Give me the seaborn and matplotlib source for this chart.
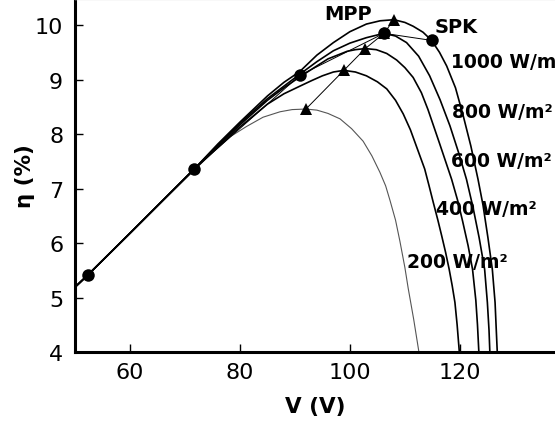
import matplotlib
matplotlib.use("Agg")
import matplotlib.pyplot as plt
import seaborn as sns
import pandas as pd

sns.set_style("ticks")
plt.rcParams["font.family"] = ["DejaVu Sans"]
plt.rcParams.update({
    "text.color": "black",
    "axes.labelcolor": "black",
    "axes.edgecolor": "black",
    "xtick.color": "black",
    "ytick.color": "black",
})

# Efficiency curves eta(V) for each irradiance level
v_200 = [50, 52.3, 60, 66, 71.7, 75, 78.2, 81.2, 84.2, 87.3, 89.5, 92.0, 94, 96, 98.2,
         100.3, 102.4, 104, 105.45, 106.5, 107.3, 108.3, 109.1, 110, 110.6, 111.6, 112.55]
eta_200 = [5.19, 5.41, 6.18, 6.78, 7.34, 7.66, 7.95, 8.14, 8.31, 8.41, 8.45, 8.46, 8.44, 8.38, 8.28,
           8.10, 7.87, 7.60, 7.30, 7.05, 6.78, 6.42, 6.03, 5.55, 5.17, 4.6, 4.0]

v_400 = [50, 52.3, 60, 71.7, 76, 80, 85, 88, 90.9, 93, 95, 97, 98.9, 101, 103, 105, 106.7,
         108.3, 109.7, 111, 112.3, 113.6, 114.4, 115.15, 116.0, 116.7, 117.4, 118.05, 118.6,
         119.1, 119.5, 119.9]
eta_400 = [5.19, 5.41, 6.18, 7.36, 7.76, 8.13, 8.55, 8.74, 8.88, 8.98, 9.07, 9.14, 9.17, 9.14,
           9.07, 8.96, 8.83, 8.62, 8.37, 8.08, 7.72, 7.36, 7.05, 6.75, 6.42, 6.13, 5.83, 5.52,
           5.22, 4.91, 4.5, 4.0]

v_600 = [50, 52.3, 60, 71.7, 76, 80, 85, 88, 90.9, 93.5, 96, 99.5, 101, 102.8, 104.8, 106.7,
         108.5, 110, 111.5, 113, 114.2, 115.15, 116.3, 117.4, 118.5, 119.6, 120.5, 121.5,
         122.3, 122.9, 123.2, 123.45]
eta_600 = [5.19, 5.41, 6.18, 7.36, 7.78, 8.17, 8.62, 8.85, 9.05, 9.22, 9.38, 9.52, 9.55, 9.57,
           9.55, 9.48, 9.36, 9.22, 9.04, 8.76, 8.45, 8.17, 7.83, 7.50, 7.17, 6.78, 6.40, 5.95,
           5.52, 4.95, 4.5, 4.0]

v_800 = [50, 52.3, 60, 71.7, 76, 80, 85, 88, 90.9, 94, 97, 100, 103, 106.2, 108.3, 110.3,
         112.5, 114.5, 116.4, 118.2, 119.8, 121.2, 122.4, 123.5, 124.5, 125.0, 125.3, 125.45]
eta_800 = [5.19, 5.41, 6.18, 7.36, 7.80, 8.20, 8.65, 8.88, 9.10, 9.33, 9.53, 9.67, 9.77, 9.85,
           9.80, 9.68, 9.43, 9.07, 8.63, 8.15, 7.65, 7.17, 6.65, 6.10, 5.52, 4.91, 4.4, 4.0]

v_1000 = [50, 52.3, 60, 71.7, 76, 80, 85, 88, 90.9, 94, 97, 100, 103, 105.5, 108.0, 110,
          111.5, 113.3, 114.85, 116.3, 117.6, 119.2, 120.6, 122, 123.3, 124.2, 125.1, 125.9,
          126.4, 126.6, 126.8]
eta_1000 = [5.19, 5.41, 6.18, 7.36, 7.82, 8.22, 8.70, 8.95, 9.15, 9.45, 9.68, 9.88, 10.02,
            10.08, 10.10, 10.05, 9.98, 9.87, 9.72, 9.50, 9.25, 8.85, 8.34, 7.78, 7.17, 6.70,
            6.10, 5.52, 4.91, 4.45, 4.0]

irradiance_labels = ["200 W/m²", "400 W/m²", "600 W/m²", "800 W/m²", "1000 W/m²"]

# Maximum power points (MPP) and SPK operating points
mpp_v = [92.0, 98.9, 102.8, 106.2, 108.0]
mpp_eta = [8.46, 9.17, 9.57, 9.85, 10.10]
spk_v = [52.3, 71.7, 90.9, 106.2, 114.85]
spk_eta = [5.41, 7.36, 9.08, 9.85, 9.72]

curves = pd.concat([
    pd.DataFrame({"V": v, "eta": e, "G": g})
    for v, e, g in zip([v_200, v_400, v_600, v_800, v_1000],
                       [eta_200, eta_400, eta_600, eta_800, eta_1000],
                       irradiance_labels)
], ignore_index=True)

fig = plt.figure(figsize=(5.55, 4.27), dpi=100)
ax = fig.add_axes([0.1351, 0.1733, 0.8649, 0.8267])

palette = {"200 W/m²": "#555555", "400 W/m²": "black", "600 W/m²": "black",
           "800 W/m²": "black", "1000 W/m²": "black"}
sizes = {"200 W/m²": 0.8, "400 W/m²": 1.2, "600 W/m²": 1.2,
         "800 W/m²": 1.2, "1000 W/m²": 1.2}
sns.lineplot(data=curves, x="V", y="eta", hue="G", size="G", palette=palette,
             sizes=sizes, sort=False, estimator=None, legend=False, ax=ax)

sns.lineplot(x=mpp_v, y=mpp_eta, sort=False, estimator=None, color="black",
             lw=0.7, marker="^", markersize=8, markeredgewidth=0, ax=ax)
sns.lineplot(x=spk_v, y=spk_eta, sort=False, estimator=None, color="black",
             lw=0.7, marker="o", markersize=9, markeredgewidth=0, ax=ax)

ax.set_xlim(50, 137.3)
ax.set_ylim(4, 10.48)
ax.set_xticks([60, 80, 100, 120])
ax.set_yticks([4, 5, 6, 7, 8, 9, 10])
ax.tick_params(direction="in", length=6, width=1, labelsize=16, colors="black")
ax.tick_params(axis="x", pad=7)
ax.tick_params(axis="y", pad=8.5)

for side in ["left", "bottom"]:
    ax.spines[side].set_linewidth(2.2)
    ax.spines[side].set_color("black")
ax.spines["right"].set_visible(False)
ax.spines["top"].set_color("#dddddd")
ax.spines["top"].set_linewidth(1)

ax.set_xlabel("V (V)", fontsize=15.5, fontweight="bold", color="black")
ax.set_ylabel("η (%)", fontsize=15.5, fontweight="bold", color="black")
ax.xaxis.set_label_coords(0.5, -0.125)
ax.yaxis.set_label_coords(-0.083, 0.5)

label_kw = dict(fontsize=13.5, fontweight="bold", va="center", ha="left", color="black")
ax.text(50 + (451 - 75) / 5.5, 4 + (353 - 62) / 54.5, "1000 W/m²", **label_kw)
ax.text(50 + (452 - 75) / 5.5, 4 + (353 - 112) / 54.5, "800 W/m²", **label_kw)
ax.text(50 + (451 - 75) / 5.5, 4 + (353 - 161) / 54.5, "600 W/m²", **label_kw)
ax.text(50 + (436 - 75) / 5.5, 4 + (353 - 209) / 54.5, "400 W/m²", **label_kw)
ax.text(50 + (407 - 75) / 5.5, 4 + (353 - 262) / 54.5, "200 W/m²", **label_kw)
ax.text(50 + (348 - 75) / 5.5, 4 + (353 - 14) / 54.5, "MPP", fontsize=14,
        fontweight="bold", ha="center", va="center", color="black")
ax.text(50 + (456 - 75) / 5.5, 4 + (353 - 27) / 54.5, "SPK", fontsize=14,
        fontweight="bold", ha="center", va="center", color="black")

fig.savefig("out.png", dpi=100)
